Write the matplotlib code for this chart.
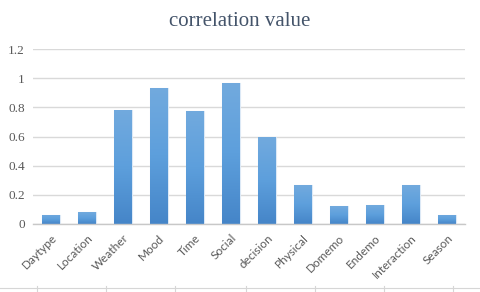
import matplotlib
matplotlib.use("Agg")
import matplotlib.pyplot as plt
import numpy as np
from matplotlib.lines import Line2D
from matplotlib.colors import LinearSegmentedColormap

categories = ["Daytype", "Location", "Weather", "Mood", "Time", "Social",
              "decision", "Physical", "Domemo", "Endemo", "Interaction", "Season"]
values = [0.062, 0.080, 0.782, 0.933, 0.775, 0.965, 0.599, 0.267, 0.121, 0.128, 0.267, 0.062]
yticks = [0, 0.2, 0.4, 0.6, 0.8, 1.0, 1.2]
ytick_labels = ["0", "0.2", "0.4", "0.6", "0.8", "1", "1.2"]

fig = plt.figure(figsize=(4.8, 2.92), dpi=100)
ax = fig.add_axes([33/480, 1-224/292, 432/480, 175/292])

x = np.arange(len(categories))
bars = ax.bar(x, values, width=0.5, color="#5b9bd5", edgecolor="#dce9f6", linewidth=0.8, zorder=2)

# gradient fill
grad = np.linspace(0, 1, 256).reshape(-1, 1)
cmap = LinearSegmentedColormap.from_list("g", ["#4585c8", "#5d9fdc", "#72aade"])
for b in bars:
    bx, by = b.get_x(), b.get_y()
    w, h = b.get_width(), b.get_height()
    im = ax.imshow(grad, cmap=cmap, extent=[bx, bx + w, by, by + h], origin="lower",
                   aspect="auto", zorder=2.5, interpolation="bilinear")
    im.set_clip_path(b)

ax.set_xlim(-0.5, len(categories) - 0.5)
ax.set_ylim(0, 1.2)
ax.set_yticks(yticks)
ax.set_yticklabels(ytick_labels, fontfamily="Liberation Serif", fontsize=9.5, color="#595959")
ax.set_xticks(x)
ax.set_xticklabels(categories, rotation=45, ha="right", rotation_mode="anchor",
                   fontfamily="Lato", fontsize=8.5, color="#595959")
ax.tick_params(axis="both", length=0)
ax.tick_params(axis="x", pad=6)
ax.tick_params(axis="y", pad=6)
ax.grid(axis="y", color="#d9d9d9", linewidth=1, zorder=0)
ax.set_axisbelow(True)
for s in ["top", "right", "left"]:
    ax.spines[s].set_visible(False)
ax.spines["bottom"].set_color("#c8c8c8")
ax.spines["bottom"].set_linewidth(1)

fig.text(0.5, 1 - 22/292, "correlation value", ha="center", va="center",
         fontfamily="Liberation Serif", fontsize=15, color="#44546a")

# page artifact line at bottom
fig.add_artist(Line2D([0, 1], [1 - 288/292, 1 - 288/292], color="#d6d6d6", linewidth=0.8,
                      transform=fig.transFigure))
for px in [37, 106, 175, 246, 315, 384, 453]:
    fig.add_artist(Line2D([px/480, px/480], [0, 1 - 286/292], color="#d6d6d6", linewidth=0.8,
                          transform=fig.transFigure))

fig.savefig("out.png", dpi=100)
